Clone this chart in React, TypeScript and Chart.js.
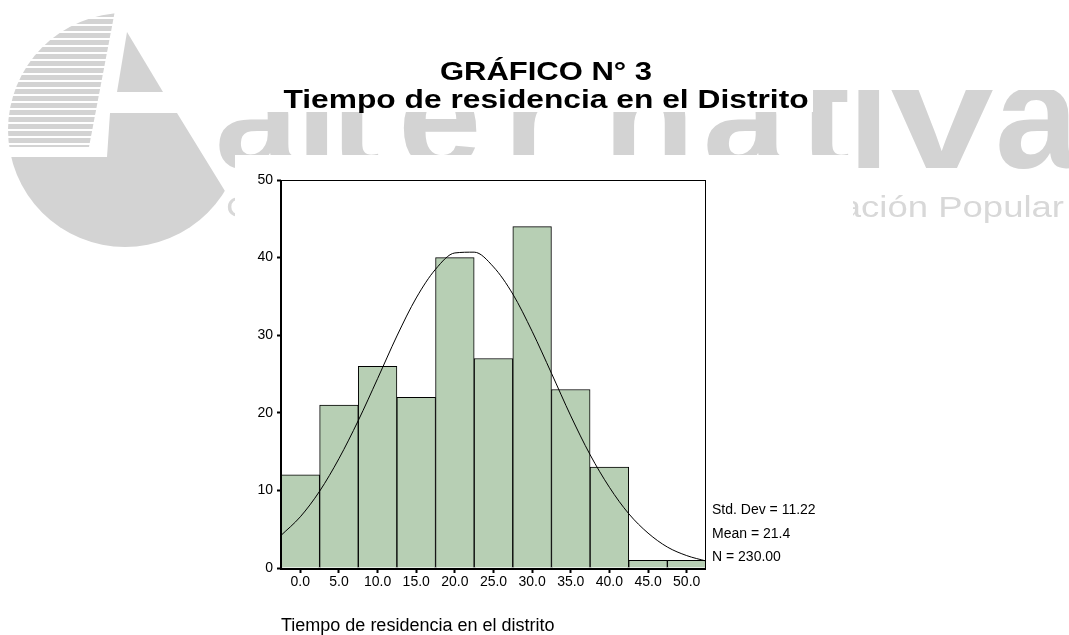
import React, { useEffect, useRef } from "react";
import { Chart, registerables } from "chart.js";

Chart.register(...registerables);

// ---- data ----
const binLabels = ["0.0", "5.0", "10.0", "15.0", "20.0", "25.0", "30.0", "35.0", "40.0", "45.0", "50.0"];
const binCounts = [12, 21, 26, 22, 40, 27, 44, 23, 13, 1, 1];
// normal curve (x in years, y in frequency)
const curveX = [-2.5, 0, 2.5, 5, 7.5, 10, 12.5, 15, 17.5, 20, 22.5, 25, 27.5, 30, 32.5, 35, 37.5, 40, 42.5, 45, 47.5, 50, 52.5];
const curveY = [4.2, 6.6, 9.9, 14.1, 19.0, 24.4, 29.9, 34.8, 38.5, 40.6, 40.7, 38.8, 35.3, 30.5, 25.1, 19.6, 14.6, 10.4, 7.0, 4.5, 2.7, 1.6, 0.9];
const yMin = 0;
const yMax = 50;
const yStep = 10;
const titleLines = ["GRÁFICO N° 3", "Tiempo de residencia en el Distrito"];
const statLines = ["Std. Dev = 11.22", "Mean = 21.4", "N = 230.00"];
const xAxisTitle = "Tiempo de residencia en el distrito";
const watermarkWord = "alternativa";
const watermarkSub = "Centro de Investigación Social y Educación Popular";

const FONT = '"Liberation Sans", Arial, sans-serif';
const GRAY = "#d3d3d3";

function drawWatermark(ctx: CanvasRenderingContext2D) {
  ctx.save();
  ctx.fillStyle = GRAY;
  // logo
  ctx.save();
  ctx.beginPath();
  ctx.arc(125, 130, 117, 0, Math.PI * 2);
  ctx.clip();
  ctx.save();
  ctx.beginPath();
  ctx.moveTo(0, 0);
  ctx.lineTo(117, 0);
  ctx.lineTo(89, 147);
  ctx.lineTo(0, 147);
  ctx.closePath();
  ctx.clip();
  for (let y = 12; y < 147; y += 7) ctx.fillRect(0, y, 300, 5);
  ctx.restore();
  ctx.beginPath();
  ctx.moveTo(127, 32);
  ctx.lineTo(163, 92);
  ctx.lineTo(117, 92);
  ctx.closePath();
  ctx.fill();
  ctx.beginPath();
  ctx.moveTo(110, 113);
  ctx.lineTo(177, 113);
  ctx.lineTo(177 + 0.614 * 200, 313);
  ctx.lineTo(0, 313);
  ctx.lineTo(0, 157);
  ctx.lineTo(107, 157);
  ctx.closePath();
  ctx.fill();
  ctx.restore();

  // big word
  const lefts = [215, 296, 330, 398, 503, 603, 703, 800, 848, 890, 995];
  const scales = [1, 1, 1, 1, 1, 1, 1, 1, 1, 1.25, 1];
  ctx.save();
  ctx.beginPath();
  ctx.rect(0, 90, 1069, 90);
  ctx.clip();
  ctx.font = `bold 150px ${FONT}`;
  ctx.textBaseline = "alphabetic";
  ctx.textAlign = "left";
  watermarkWord.split("").forEach((ch, i) => {
    ctx.save();
    ctx.translate(lefts[i], 168);
    ctx.scale(scales[i], 1);
    ctx.fillText(ch, 0, 0);
    ctx.restore();
  });
  ctx.restore();

  // subtitle
  ctx.save();
  ctx.fillStyle = "#d8d8d8";
  ctx.font = `30px ${FONT}`;
  const w = ctx.measureText(watermarkSub).width;
  const sx = (1064 - 226) / w;
  ctx.translate(1064, 217);
  ctx.scale(sx, 1);
  ctx.textAlign = "right";
  ctx.textBaseline = "alphabetic";
  ctx.fillText(watermarkSub, 0, 0);
  ctx.restore();

  // white boxes of title and chart picture
  ctx.fillStyle = "#ffffff";
  ctx.fillRect(200, 40, 613, 72);
  ctx.fillRect(235, 155, 618, 480);
  ctx.restore();
}

const decorPlugin = {
  id: "decor",
  beforeDraw(chart: any) {
    drawWatermark(chart.ctx);
  },
  afterDraw(chart: any) {
    const ctx: CanvasRenderingContext2D = chart.ctx;
    const a = chart.chartArea;
    ctx.save();
    // frame
    ctx.strokeStyle = "#000";
    ctx.lineWidth = 1;
    ctx.strokeRect(a.left + 0.5, a.top + 0.5, a.right - a.left - 1, a.bottom - a.top);
    ctx.lineWidth = 2;
    ctx.beginPath();
    ctx.moveTo(a.left, a.top);
    ctx.lineTo(a.left, a.bottom + 1);
    ctx.lineTo(a.right, a.bottom + 1);
    ctx.stroke();
    // titles
    ctx.fillStyle = "#000";
    ctx.font = `bold 25px ${FONT}`;
    ctx.textAlign = "center";
    ctx.textBaseline = "alphabetic";
    const baselines = [80, 108];
    const sxs = [1.24, 1.27];
    titleLines.forEach((t, i) => {
      ctx.save();
      ctx.translate(546, baselines[i]);
      ctx.scale(sxs[i], 1);
      ctx.fillText(t, 0, 0);
      ctx.restore();
    });
    // stats
    ctx.font = `14px ${FONT}`;
    ctx.textAlign = "left";
    const sb = [514, 537.5, 561];
    statLines.forEach((t, i) => ctx.fillText(t, a.right + 6, sb[i]));
    ctx.restore();
  },
};

export default function App() {
  const ref = useRef<HTMLCanvasElement>(null);
  useEffect(() => {
    if (!ref.current) return;
    const chart = new Chart(ref.current, {
      type: "bar",
      data: {
        labels: binLabels,
        datasets: [
          {
            type: "line",
            data: curveX.map((x, i) => ({ x, y: curveY[i] })) as any,
            xAxisID: "xc",
            yAxisID: "y",
            borderColor: "#000",
            borderWidth: 1,
            pointRadius: 0,
            fill: false,
            cubicInterpolationMode: "monotone",
            order: 0,
          } as any,
          {
            type: "bar",
            data: binCounts,
            xAxisID: "x",
            yAxisID: "y",
            backgroundColor: "#b7cfb4",
            borderColor: "#000",
            borderWidth: 1,
            barPercentage: 1,
            categoryPercentage: 1,
            grouped: false,
            order: 1,
          } as any,
        ],
      },
      options: {
        responsive: false,
        animation: false,
        layout: { padding: { left: 0, right: 363, top: 180, bottom: 0 } },
        plugins: { legend: { display: false }, tooltip: { enabled: false }, title: { display: false } },
        scales: {
          x: {
            type: "category",
            offset: true,
            grid: { drawOnChartArea: false, drawTicks: true, tickLength: 5, tickWidth: 2, tickColor: "#000", offset: false },
            border: { display: false },
            ticks: { color: "#000", font: { family: FONT, size: 14 }, padding: 1, maxRotation: 0, autoSkip: false },
            title: {
              display: true,
              text: xAxisTitle,
              align: "start",
              color: "#000",
              font: { family: FONT, size: 18, lineHeight: 1 },
              padding: { top: 0, bottom: 0 },
            },
            afterFit: (s: any) => {
              s.height = 67;
            },
          },
          xc: { type: "linear", display: false, offset: false, grid: { offset: false }, min: -2.5, max: 52.5 },
          y: {
            min: yMin,
            max: yMax,
            ticks: { stepSize: yStep, color: "#000", font: { family: FONT, size: 14 }, padding: 4 },
            grid: { drawOnChartArea: false, tickLength: 4, tickWidth: 2, tickColor: "#000" },
            border: { display: false },
            afterFit: (s: any) => {
              s.width = 281;
            },
          },
        } as any,
      },
      plugins: [decorPlugin],
    });
    return () => chart.destroy();
  }, []);
  return (
    <div style={{ position: "absolute", left: 0, top: 0, width: 1069, height: 635, background: "#fff" }}>
      <canvas ref={ref} width={1069} height={635} style={{ display: "block" }} />
    </div>
  );
}
